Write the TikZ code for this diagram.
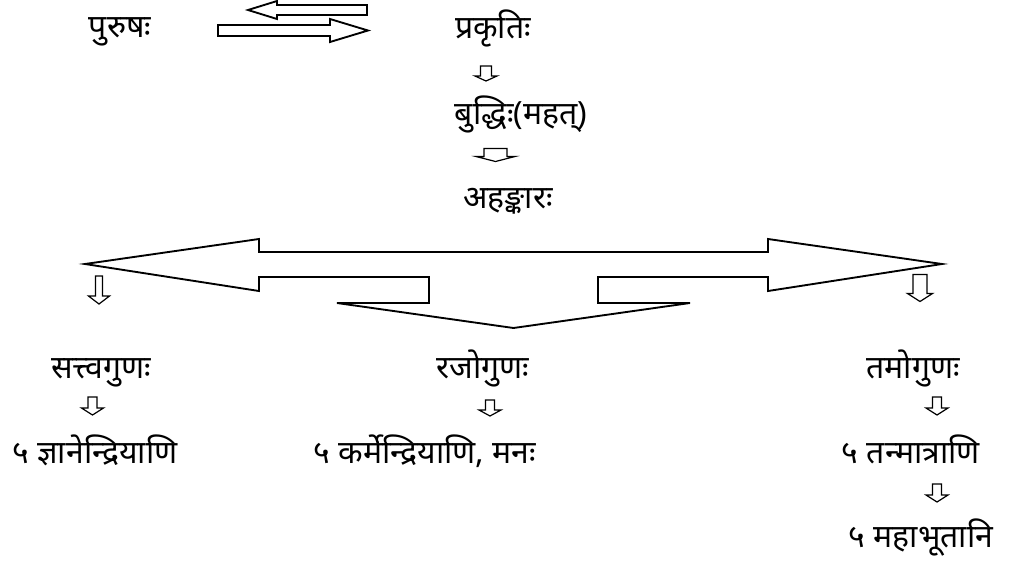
\documentclass[tikz,border=0pt]{standalone}
\usepackage{fontspec}
\newfontfamily\devfont[Script=Devanagari]{Noto Sans}
\usetikzlibrary{calc}
\tikzset{
  pics/hollowdown/.style n args={4}{code={
    \draw[line width=0.9pt] (-#1,-#3/2) -- (-#1,#3/2-#4) -- (-#2,#3/2-#4) -- (0,#3/2)
      -- (#2,#3/2-#4) -- (#1,#3/2-#4) -- (#1,-#3/2) -- cycle;
  }}
}

\begin{document}
\begin{tikzpicture}[
  x=0.75pt, y=-0.75pt,
  word/.style={font=\devfont\fontsize{24}{28}\selectfont, inner sep=0pt, anchor=base},
  bigArrow/.style={draw, line width=1.4pt, line join=miter},
  ]
  \useasboundingbox (0,0) rectangle (1028,565);
  % texts
  \node[word] (purusha) at (120,37) {पुरुषः};
  \node[word] (prakriti) at (493,38) {प्रकृतिः};
  \node[word] (buddhi) at (521,124) {बुद्धिः(महत्)};
  \node[word] (ahankara) at (508,208) {अहङ्कारः};
  \node[word] (sattva) at (101,378) {सत्त्वगुणः};
  \node[word] (rajas) at (483,378) {रजोगुणः};
  \node[word] (tamas) at (913,378) {तमोगुणः};
  \node[word] (jnana) at (95,463) {५ ज्ञानेन्द्रियाणि};
  \node[word] (karma) at (425,463) {५ कर्मेन्द्रियाणि, मनः};
  \node[word] (tanmatra) at (911,463) {५ तन्मात्राणि};
  \node[word] (bhuta) at (921,547) {५ महाभूतानि};
  % purusha <-> prakriti
  \draw[bigArrow] (248,10) -- (277,1) -- (277,5) -- (367,5) -- (367,15) -- (277,15) -- (277,19) -- cycle;
  \draw[bigArrow] (218,25) -- (330,25) -- (330,19) -- (368,30.5) -- (330,42) -- (330,36) -- (218,36) -- cycle;
  % three way arrow
  \draw[bigArrow] (85,264) -- (259,239) -- (259,252) -- (768,252) -- (768,239) -- (942,264)
    -- (768,291) -- (768,277) -- (598,277) -- (598,303) -- (690,303) -- (513.5,328)
    -- (337,303) -- (429,303) -- (429,277) -- (259,277) -- (259,291) -- cycle;
  % down arrows
  \pic at ($(prakriti.base)+(-7,35.5)$) {hollowdown={5.5}{11}{15}{5}};
  \pic at ($(buddhi.base)+(-25.5,31)$) {hollowdown={11.5}{19.5}{13}{5}};
  \pic at ($(sattva.base)+(-2,-88)$) {hollowdown={3.5}{10.5}{28}{8}};
  \pic at ($(tamas.base)+(7,-90)$) {hollowdown={7}{12.5}{27}{8}};
  \pic at ($(sattva.base)+(-8.5,28)$) {hollowdown={4.5}{11}{18}{7}};
  \pic at ($(rajas.base)+(7,30)$) {hollowdown={4.5}{11}{16}{6}};
  \pic at ($(tamas.base)+(24,28)$) {hollowdown={4.5}{11}{18}{7}};
  \pic at ($(tanmatra.base)+(26,30)$) {hollowdown={4.5}{11}{18}{7}};
\end{tikzpicture}
\end{document}
